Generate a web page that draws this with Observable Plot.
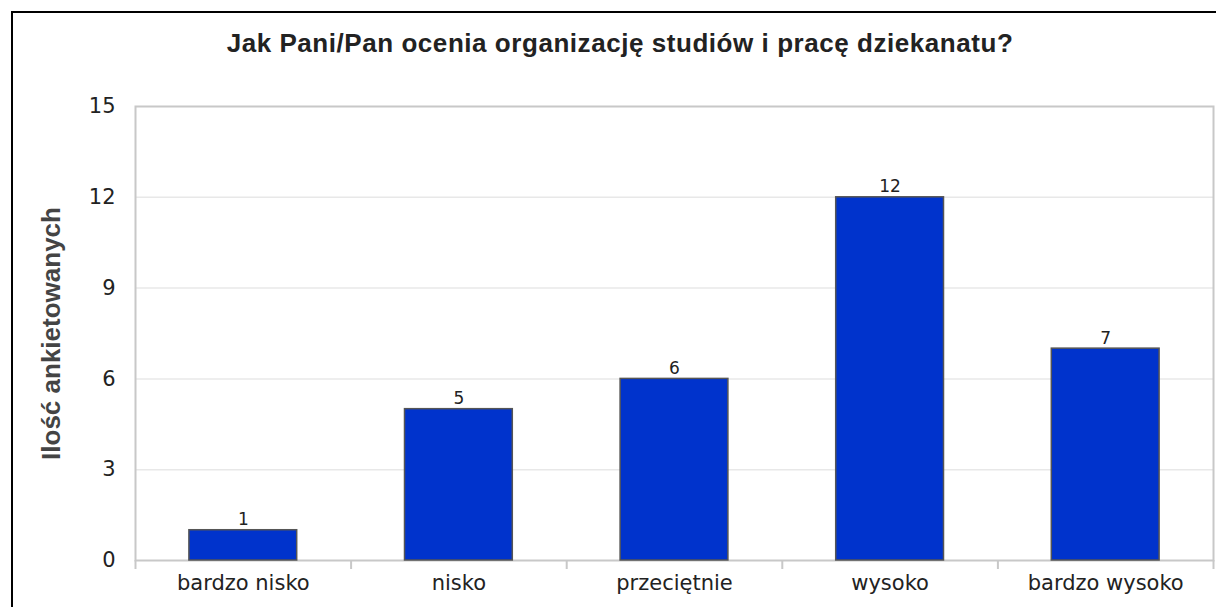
<!DOCTYPE html>
<html><head><meta charset="utf-8">
<script src="https://cdn.jsdelivr.net/npm/d3@7"></script>
<script src="https://cdn.jsdelivr.net/npm/@observablehq/plot@0.6"></script>
<style>
html,body{margin:0;padding:0;background:#fff;overflow:hidden;}
#wrap{position:relative;width:1217px;height:607px;overflow:hidden;background:#fff;}
#topline{position:absolute;left:11px;top:11px;width:1205px;height:2px;background:#000;}
#leftline{position:absolute;left:11px;top:11px;width:2px;height:596px;background:#000;}
#title{position:absolute;left:0;width:1240px;top:28px;text-align:center;font:bold 26px "Liberation Sans",Arial,sans-serif;color:#222;letter-spacing:0.55px;z-index:2;}
#chart{position:absolute;left:0;top:0;z-index:1;width:1217px;height:607px;}
#chart svg{display:block;}
</style></head><body>
<div id="wrap"><div id="topline"></div><div id="leftline"></div><div id="title"></div><div id="chart"></div></div>
<script>
const titleText = "Jak Pani/Pan ocenia organizację studiów i pracę dziekanatu?";
const categories = ["bardzo nisko", "nisko", "przeciętnie", "wysoko", "bardzo wysoko"];
const counts = [1, 5, 6, 12, 7];
const yTicks = [0, 3, 6, 9, 12, 15];
const yLabel = "Ilość ankietowanych";

document.getElementById("title").textContent = titleText;

const data = categories.map((c, i) => ({category: c, index: i, value: counts[i]}));
const boundaries = d3.range(categories.length + 1).map(i => i - 0.5);

const plot = Plot.plot({
  width: 1217, height: 607,
  marginLeft: 135, marginRight: 4, marginTop: 106, marginBottom: 47,
  style: {background: "transparent", fontFamily: "'DejaVu Sans', sans-serif", fontSize: "21px", color: "#222"},
  x: {type: "linear", domain: [-0.5, categories.length - 0.5]},
  y: {domain: [0, 15]},
  marks: [
    Plot.ruleY(yTicks.slice(1, -1), {stroke: "#e8e8e8", strokeWidth: 1.5}),
    Plot.frame({stroke: "#c8c8c8", strokeWidth: 2}),
    Plot.axisX({ticks: boundaries, tickSize: 9, tickFormat: () => "", stroke: "#c8c8c8", strokeWidth: 2, label: null}),
    Plot.axisX({ticks: d3.range(categories.length), tickSize: 0, tickPadding: 15, tickFormat: i => categories[i], fontSize: 21, fill: "#222", label: null}),
    Plot.axisY({ticks: yTicks, tickSize: 0, tickPadding: 20, fontSize: 21, fill: "#222", label: null}),
    Plot.rectY(data, {x1: d => d.index - 0.25, x2: d => d.index + 0.25, y: "value", fill: "#0033cc", stroke: "#555", strokeWidth: 1.5}),
    Plot.text(data, {x: "index", y: "value", text: d => String(d.value), lineAnchor: "bottom", dy: -5, fontSize: 17, fill: "#222"}),
    Plot.text([yLabel], {text: d => d, frameAnchor: "left", textAnchor: "middle", rotate: -90, dx: -84, fontWeight: "bold", fontSize: 26, fontFamily: "'Liberation Sans', Arial, sans-serif", fill: "#444"})
  ]
});
document.getElementById("chart").appendChild(plot);
</script>
</body></html>
